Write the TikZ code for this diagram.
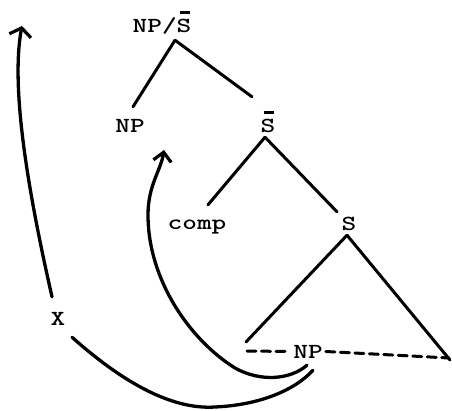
\documentclass[tikz,border=0pt]{standalone}
\usepackage{fontspec}
\usetikzlibrary{calc,arrows.meta}
\newfontfamily\lblbase[Extension=.otf,FakeStretch=1.3]{lmmonolt10-bold}
\newcommand\ovS{\leavevmode\rlap{\raisebox{19pt}{\kern3pt\rule{10pt}{2.8pt}}}S}
\newcommand\lblfont{\lblbase\fontsize{21.5}{26}\selectfont}
\begin{document}
\begin{tikzpicture}[x=1pt,y=-1pt,
  lbl/.style={font=\lblfont, inner sep=0pt, text height=13pt, text depth=0pt, anchor=base},
  edge/.style={line width=3pt, line cap=round},
  dashline/.style={line width=3pt, line cap=round, dash pattern=on 9pt off 5.5pt},
  mv/.style={line width=3.3pt, line cap=round},
  mvarrow/.style={mv, -{Straight Barb[length=8pt,width=22pt,line width=3.2pt]}},
  mvarrowb/.style={mv, -{Straight Barb[length=9pt,width=18pt,line width=3.2pt]}}]
\useasboundingbox (0,0) rectangle (452,411);
% labels
\node[lbl] (top)  at (162,33)  {NP/\ovS};
\node[lbl] (np1)  at (130,133) {NP};
\node[lbl] (sbar) at (268,133) {\ovS};
\node[lbl] (comp) at (197,230) {comp};
\node[lbl] (s)    at (349,231) {S};
\node[lbl] (np2)  at (308,358) {NP};
\node[lbl] (x)    at (58,325)  {X};
\coordinate (legl) at (246,342);
\coordinate (legr) at (450,360);
% tree edges
\draw[edge] ($(top.south)+(13,7)$) -- ($(np1.north)+(3,-13)$);
\draw[edge] ($(top.south)+(13,7)$) -- ($(sbar.north)+(-16,-23)$);
\draw[edge] ($(sbar.south)+(-3,4)$) -- ($(comp.north)+(11,-12)$);
\draw[edge] ($(sbar.south)+(-3,4)$) -- ($(s.north)+(-12,-6)$);
\draw[edge] ($(s.south)+(-2,4)$) -- (legl);
\draw[edge] ($(s.south)+(-2,4)$) -- (legr);
% dashed line through NP
\draw[dashline] ($(legl)+(1,9)$) -- ($(np2.west)+(-3,0)$);
\draw[dashline] ($(np2.east)+(3,0)$) -- ($(legr)+(-1,-2)$);
% movement arrows
\draw[mvarrow] ($(x.north)+(-6,-15)$) .. controls (30,200) and (10,90) .. (22,26);
\draw[mv] ($(x.south)+(14,12)$) .. controls (120,380) and (170,410) .. (215,407)
   .. controls (260,405) and (295,390) .. ($(np2.south)+(5,12)$);
\draw[mvarrowb] ($(np2.south)+(-1,7)$) .. controls (290,380) and (260,382) .. (235,368)
   .. controls (190,340) and (148,280) .. (148,215)
   .. controls (148,185) and (161,170) .. (164,150);
\end{tikzpicture}
\end{document}
